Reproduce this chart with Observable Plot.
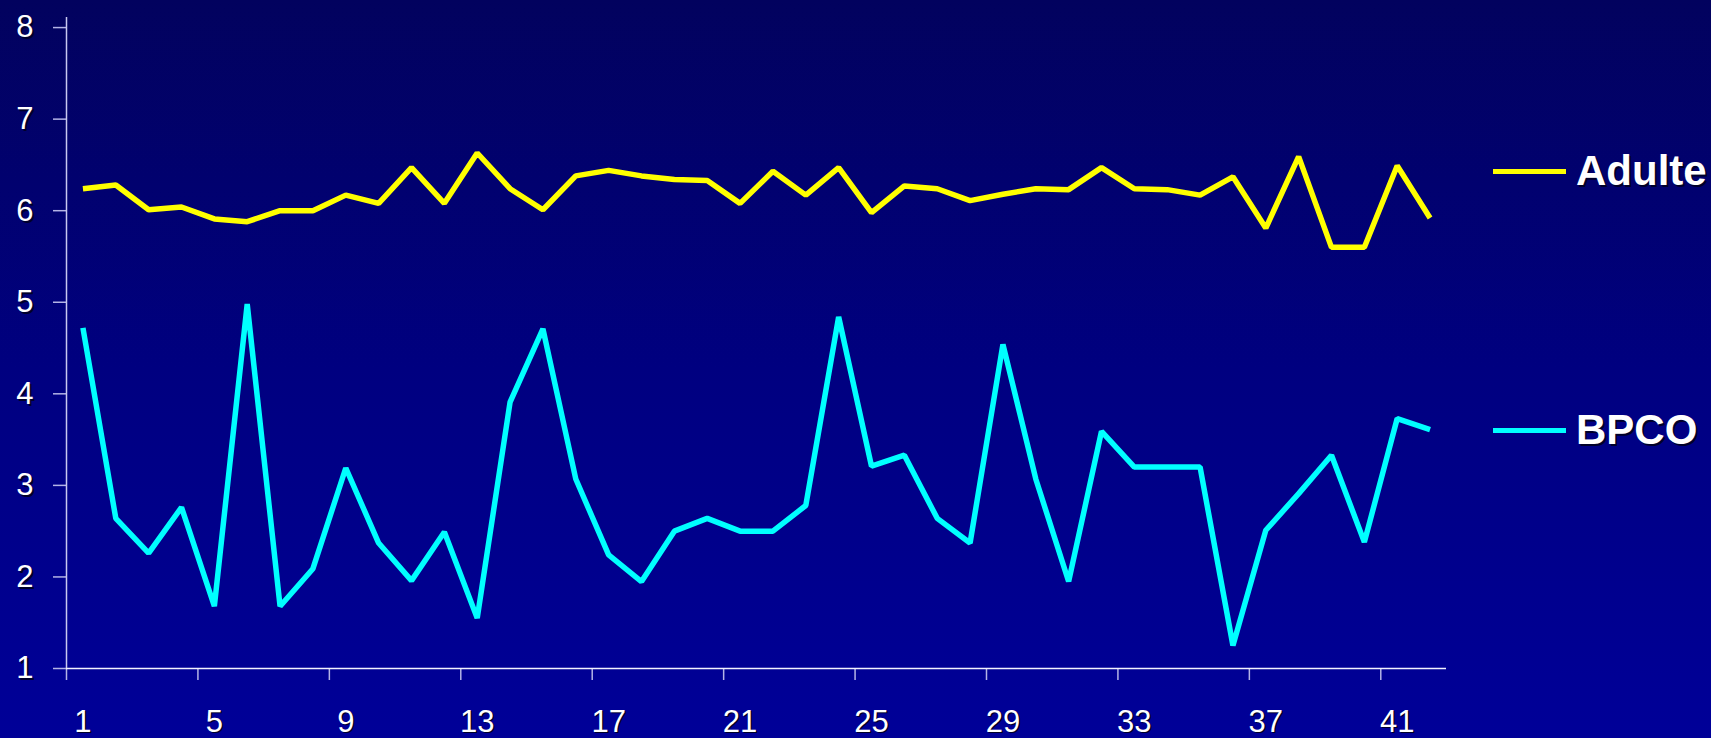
<!DOCTYPE html>
<html>
<head>
<meta charset="utf-8">
<script src="https://cdn.jsdelivr.net/npm/d3@7"></script>
<script src="https://cdn.jsdelivr.net/npm/@observablehq/plot@0.6"></script>
<style>
  html, body { margin: 0; padding: 0; }
  body {
    width: 1711px; height: 738px; overflow: hidden; position: relative;
    background: linear-gradient(to bottom, #02025e 0%, #000080 50%, #000098 100%);
    font-family: "Liberation Sans", Arial, sans-serif;
  }
  #chart svg { display: block; background: transparent; overflow: visible; }
  .leg { position: absolute; left: 1493px; height: 50px; display: flex; align-items: center; }
  .leg .sw { display: inline-block; width: 73px; height: 5px; }
  .leg .lt { margin-left: 10px; font-size: 42px; font-weight: bold; color: #ffffff;
             text-shadow: 2px 2px 0 #00002a; line-height: 50px; }
</style>
</head>
<body>
<div id="chart"></div>
<div id="legend"></div>
<script>
// Categories (x axis)
const categories = [1,2,3,4,5,6,7,8,9,10,11,12,13,14,15,16,17,18,19,20,21,
                    22,23,24,25,26,27,28,29,30,31,32,33,34,35,36,37,38,39,40,41,42];
// Series values
const adulte = [6.24,6.28,6.01,6.04,5.91,5.88,6.00,6.00,6.17,6.08,6.47,6.08,6.63,6.24,
                6.01,6.38,6.44,6.38,6.34,6.33,6.08,6.43,6.17,6.47,5.98,6.27,6.24,6.11,
                6.18,6.24,6.23,6.47,6.24,6.23,6.17,6.37,5.81,6.59,5.60,5.60,6.49,5.92];
const bpco   = [4.72,2.64,2.26,2.76,1.68,4.98,1.68,2.09,3.19,2.37,1.96,2.49,1.55,3.91,
                4.71,3.07,2.24,1.95,2.50,2.64,2.50,2.50,2.78,4.84,3.21,3.33,2.64,2.37,
                4.54,3.07,1.95,3.59,3.20,3.20,3.20,1.25,2.51,2.91,3.33,2.38,3.73,3.61];
// Series names and colours
const seriesNames  = ["Adulte", "BPCO"];
const seriesColors = ["#ffff00", "#00ffff"];
// Tick labels
const xTickLabels = [1,5,9,13,17,21,25,29,33,37,41];
const yTickLabels = [1,2,3,4,5,6,7,8];

const rows = categories.map((c, i) => ({cat: c, adulte: adulte[i], bpco: bpco[i]}));
const xBounds = xTickLabels.map(d => d - 0.5);   // tick marks sit between categories
const xMin = categories[0] - 0.5, xMax = categories[categories.length - 1] + 0.5;
const yMin = yTickLabels[0], yMax = yTickLabels[yTickLabels.length - 1] + 0.11;

const font = "'Liberation Sans', Arial, sans-serif";
const shadow = "#00002a";

const chart = Plot.plot({
  width: 1711,
  height: 738,
  marginLeft: 66,
  marginRight: 265,
  marginTop: 17,
  marginBottom: 70,
  style: {background: "transparent", fontFamily: font, overflow: "visible"},
  x: {type: "linear", domain: [xMin, xMax], label: null},
  y: {type: "linear", domain: [yMin, yMax], label: null},
  marks: [
    // y axis ticks + labels (with shadow)
    Plot.axisY({ticks: yTickLabels, tickSize: 0, tickPadding: 33, fontSize: 31, fill: shadow, dx: 2, dy: 2, tickFormat: d => d, label: null}),
    Plot.axisY({ticks: yTickLabels, tickSize: 13, tickPadding: 20, fontSize: 31, fill: "#ffffff", stroke: "#b4b4e6", strokeWidth: 1.5, tickFormat: d => d, label: null}),
    // x axis tick marks (between categories)
    Plot.axisX({ticks: xBounds, tickSize: 12, tickFormat: () => "", stroke: "#b4b4e6", strokeWidth: 1.5, label: null}),
    // x axis labels (with shadow)
    Plot.axisX({ticks: xTickLabels, tickSize: 0, tickPadding: 41, fontSize: 31, fill: shadow, dx: 1.5, dy: 1.5, tickFormat: d => d, label: null}),
    Plot.axisX({ticks: xTickLabels, tickSize: 0, tickPadding: 41, fontSize: 31, fill: "#ffffff", tickFormat: d => d, label: null}),
    // axis lines
    Plot.ruleY([yMin], {stroke: "#f2f2ff", strokeWidth: 1.5}),
    Plot.ruleX([xMin], {stroke: "#c8c8f0", strokeWidth: 1.5}),
    // series
    Plot.line(rows, {x: "cat", y: "adulte", stroke: seriesColors[0], strokeWidth: 5.5, strokeLinecap: "butt", strokeLinejoin: "miter"}),
    Plot.line(rows, {x: "cat", y: "bpco", stroke: seriesColors[1], strokeWidth: 5.5, strokeLinecap: "butt", strokeLinejoin: "miter"})
  ]
});
document.getElementById("chart").appendChild(chart);

// Legend (right side)
const legendTops = [146, 405];
const legend = document.getElementById("legend");
seriesNames.forEach((name, i) => {
  const item = document.createElement("div");
  item.className = "leg";
  item.style.top = legendTops[i] + "px";
  const sw = document.createElement("span");
  sw.className = "sw";
  sw.style.background = seriesColors[i];
  const lt = document.createElement("span");
  lt.className = "lt";
  lt.textContent = name;
  item.appendChild(sw);
  item.appendChild(lt);
  legend.appendChild(item);
});
</script>
</body>
</html>
